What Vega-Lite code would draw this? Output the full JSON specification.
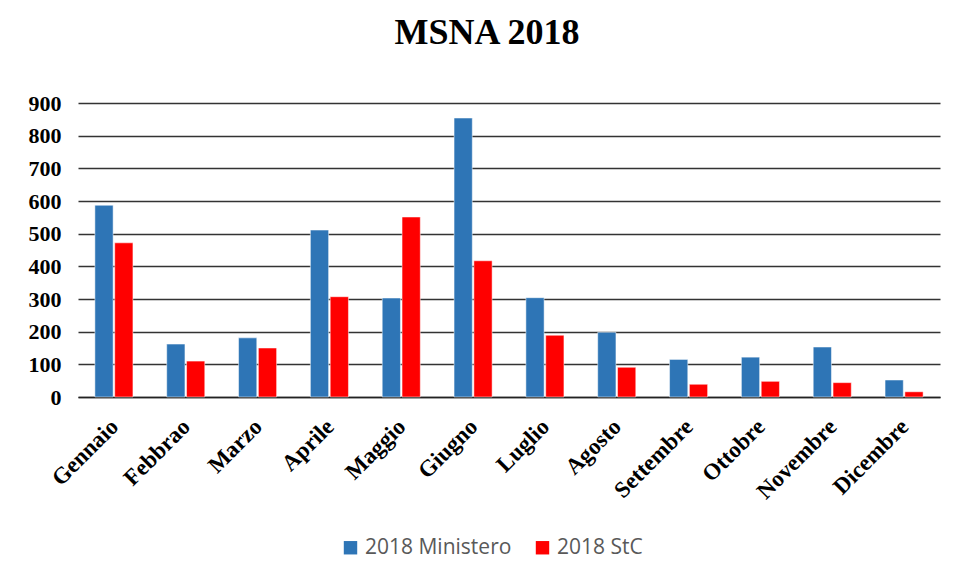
{
  "$schema": "https://vega.github.io/schema/vega-lite/v6.json",
  "autosize": {"type": "none"},
  "width": 862,
  "height": 294,
  "padding": {"left": 78, "top": 103, "right": 16, "bottom": 183},
  "background": "white",
  "title": {
    "text": "MSNA 2018",
    "font": "Liberation Serif",
    "fontSize": 36,
    "fontWeight": "bold",
    "color": "#000000",
    "anchor": "middle",
    "dx": -22,
    "offset": 40
  },
  "data": {
    "values": [
      {"mese": "Gennaio", "serie": "2018 Ministero", "valore": 587},
      {"mese": "Gennaio", "serie": "2018 StC", "valore": 472},
      {"mese": "Febbrao", "serie": "2018 Ministero", "valore": 162},
      {"mese": "Febbrao", "serie": "2018 StC", "valore": 110},
      {"mese": "Marzo", "serie": "2018 Ministero", "valore": 181},
      {"mese": "Marzo", "serie": "2018 StC", "valore": 150},
      {"mese": "Aprile", "serie": "2018 Ministero", "valore": 511},
      {"mese": "Aprile", "serie": "2018 StC", "valore": 307},
      {"mese": "Maggio", "serie": "2018 Ministero", "valore": 303},
      {"mese": "Maggio", "serie": "2018 StC", "valore": 551},
      {"mese": "Giugno", "serie": "2018 Ministero", "valore": 854},
      {"mese": "Giugno", "serie": "2018 StC", "valore": 417},
      {"mese": "Luglio", "serie": "2018 Ministero", "valore": 304},
      {"mese": "Luglio", "serie": "2018 StC", "valore": 189},
      {"mese": "Agosto", "serie": "2018 Ministero", "valore": 198},
      {"mese": "Agosto", "serie": "2018 StC", "valore": 91},
      {"mese": "Settembre", "serie": "2018 Ministero", "valore": 115},
      {"mese": "Settembre", "serie": "2018 StC", "valore": 39},
      {"mese": "Ottobre", "serie": "2018 Ministero", "valore": 122},
      {"mese": "Ottobre", "serie": "2018 StC", "valore": 48},
      {"mese": "Novembre", "serie": "2018 Ministero", "valore": 153},
      {"mese": "Novembre", "serie": "2018 StC", "valore": 44},
      {"mese": "Dicembre", "serie": "2018 Ministero", "valore": 52},
      {"mese": "Dicembre", "serie": "2018 StC", "valore": 16}
    ]
  },
  "mark": {"type": "bar", "stroke": "white", "strokeWidth": 0.5},
  "encoding": {
    "x": {
      "field": "mese",
      "type": "nominal",
      "sort": null,
      "scale": {"paddingInner": 0.47, "paddingOuter": 0.235},
      "axis": {
        "title": null,
        "labelAngle": -45,
        "labelFont": "Liberation Serif",
        "labelFontSize": 23,
        "labelFontWeight": "bold",
        "labelColor": "#000000",
        "labelPadding": 18,
        "labelOffset": -7,
        "ticks": false,
        "domain": true,
        "domainColor": "#222222",
        "domainWidth": 1.5,
        "grid": false
      }
    },
    "xOffset": {
      "field": "serie",
      "type": "nominal",
      "scale": {"paddingInner": 0.08}
    },
    "y": {
      "field": "valore",
      "type": "quantitative",
      "scale": {"domain": [0, 900], "nice": false},
      "axis": {
        "title": null,
        "values": [0, 100, 200, 300, 400, 500, 600, 700, 800, 900],
        "labelFont": "Liberation Serif",
        "labelFontSize": 22,
        "labelFontWeight": "bold",
        "labelColor": "#000000",
        "labelPadding": 17,
        "ticks": false,
        "domain": false,
        "grid": true,
        "gridColor": "#333333",
        "gridWidth": 1.5
      }
    },
    "color": {
      "field": "serie",
      "type": "nominal",
      "scale": {"domain": ["2018 Ministero", "2018 StC"], "range": ["#2E75B6", "#FF0000"]},
      "legend": {
        "title": null,
        "orient": "none",
        "direction": "horizontal",
        "legendX": 262,
        "legendY": 434,
        "symbolType": "square",
        "symbolSize": 180,
        "symbolStrokeWidth": 0,
        "labelFont": "Open Sans",
        "labelFontSize": 21,
        "labelColor": "#595959",
        "columnPadding": 20,
        "labelOffset": 4
      }
    }
  },
  "config": {"view": {"stroke": null}}
}
